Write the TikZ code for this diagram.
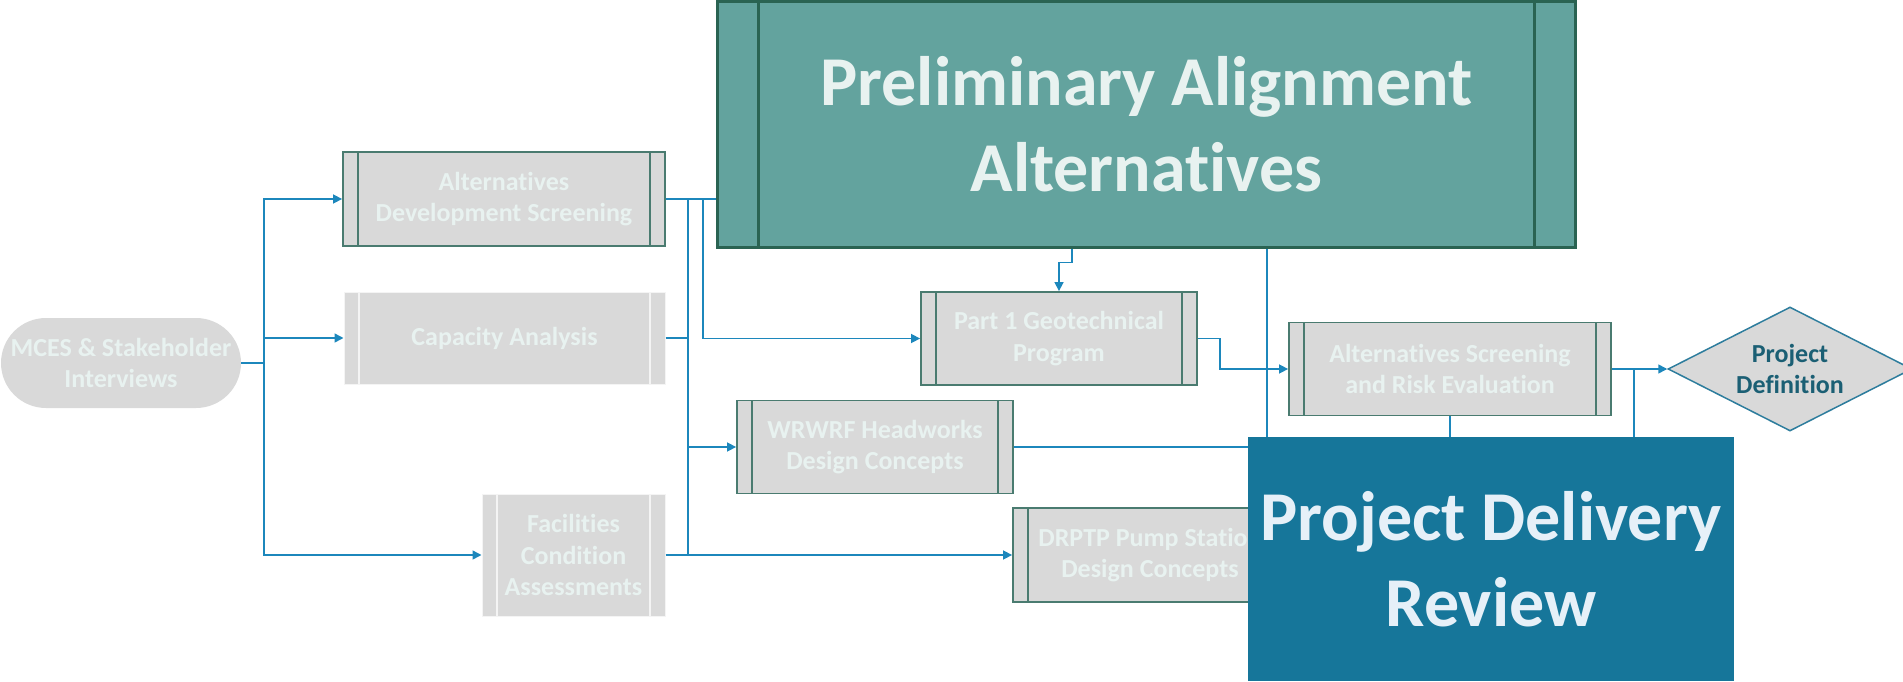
\documentclass[tikz,border=0pt]{standalone}
\usepackage{fontspec}
\setmainfont[Ligatures=NoCommon]{Carlito}
\usetikzlibrary{arrows.meta,shapes.geometric}
\definecolor{boxgray}{HTML}{D9D9D9}
\definecolor{boxedge}{HTML}{4A7B70}
\definecolor{paledge}{HTML}{F4F4F4}
\definecolor{paletext}{HTML}{E8F2F0}
\definecolor{linkblue}{HTML}{1C87BC}
\definecolor{paafill}{HTML}{63A39E}
\definecolor{paaedge}{HTML}{2A6352}
\definecolor{pdrfill}{HTML}{16769A}
\definecolor{pdrtext}{HTML}{E6F0F8}
\definecolor{pdtext}{HTML}{1B5F74}
\definecolor{pdedge}{HTML}{2E7D9D}
\begin{document}
\begin{tikzpicture}[x=1pt,y=-1pt,
  conn/.style={draw=linkblue, line width=1.5pt},
  arr/.style={conn, -{Triangle[length=9pt,width=9pt]}},
  smalltext/.style={text=paletext, font=\bfseries\fontsize{26}{31.5}\selectfont, align=center, inner sep=0pt},
  procbox/.style={smalltext, rectangle, fill=boxgray, draw=boxedge, line width=1.8pt,
    minimum height=93pt,
    path picture={\draw[boxedge, line width=1.8pt]
      ([xshift=15pt]path picture bounding box.north west) -- ([xshift=15pt]path picture bounding box.south west)
      ([xshift=-15pt]path picture bounding box.north east) -- ([xshift=-15pt]path picture bounding box.south east);}},
  palebox/.style={smalltext, rectangle, fill=boxgray, draw=paledge, line width=1pt,
    path picture={\draw[paledge, line width=1.8pt]
      ([xshift=15pt]path picture bounding box.north west) -- ([xshift=15pt]path picture bounding box.south west)
      ([xshift=-15pt]path picture bounding box.north east) -- ([xshift=-15pt]path picture bounding box.south east);}},
  bigtext/.style={font=\bfseries\fontsize{70}{86}\selectfont, align=center, inner sep=0pt}
]
\useasboundingbox (0,0) rectangle (1903,682);

% start terminator
\node[smalltext, rectangle, rounded corners=45pt, fill=boxgray, minimum width=240pt, minimum height=90pt]
  (mces) at (121,363) {MCES \& Stakeholder\\Interviews};

% first column of tasks
\node[procbox, minimum width=322pt, minimum height=94pt] (altdev) at (504,199) {Alternatives\\Development Screening};
\node[palebox, minimum width=321pt, minimum height=92pt] (cap) at (504.5,338) {Capacity Analysis};
\node[palebox, minimum width=183pt, minimum height=122pt] (fac) at (573.5,555) {Facilities\\Condition\\Assessments};

% alignment alternatives block
\node[bigtext, rectangle, fill=paafill, draw=paaedge, line width=3pt, text=paletext,
  minimum width=858pt, minimum height=245pt,
  path picture={\draw[paaedge, line width=2.5pt]
    ([xshift=41pt]path picture bounding box.north west) -- ([xshift=41pt]path picture bounding box.south west)
    ([xshift=-41pt]path picture bounding box.north east) -- ([xshift=-41pt]path picture bounding box.south east);}]
  (paa) at (1146.5,124.5) {Preliminary Alignment\\Alternatives};

% second column of tasks
\node[procbox, minimum width=276pt] (part1) at (1059,338.5) {Part 1 Geotechnical\\Program};
\node[procbox, minimum width=276pt] (wrwrf) at (875,447) {WRWRF Headworks\\Design Concepts};
\node[procbox, minimum width=322pt] (asre) at (1450,369) {Alternatives Screening\\and Risk Evaluation};
\node[procbox, minimum width=274pt, minimum height=94pt] (drptp) at (1150,555) {DRPTP Pump Station\\Design Concepts};

% delivery review block
\node[bigtext, rectangle, fill=pdrfill, text=pdrtext, minimum width=486pt, minimum height=244pt]
  (pdr) at (1491,559) {Project Delivery\\Review};

% decision
\node[diamond, draw=pdedge, line width=1.5pt, fill=boxgray, text=pdtext, align=center, inner sep=0pt,
  font=\bfseries\fontsize{26}{31}\selectfont, aspect=1.97, minimum width=244pt, minimum height=124pt]
  (pd) at (1790,369) {Project\\Definition};

% fan-out from the interviews
\coordinate (split1) at (264,363);
\draw[conn] (mces.east) -- (split1);
\draw[arr] (split1) |- (altdev.west);
\draw[arr] (split1) |- (cap.west);
\draw[arr] (split1) |- (fac.west);

% links out of the first column
\coordinate (bus1) at (688,199);
\coordinate (bus2) at (703,199);
\draw[conn] (altdev.east) -- (altdev.east -| paa.west);
\draw[conn] (bus1) |- (fac.east);
\draw[conn] (cap.east) -- (cap.east -| bus1);
\draw[arr] (bus1 |- wrwrf.west) -- (wrwrf.west);
\draw[arr] (bus2) |- (part1.west);
\draw[arr] (fac.east) -- (drptp.west);

% links out of the alignment block
\draw[arr] ([xshift=-74.5pt]paa.south) -- ++(0,14) -| (part1.north);
\draw[conn] ([xshift=120.5pt]paa.south) -- ([xshift=120.5pt]paa.south |- pdr.north);

% links toward screening, definition and delivery review
\draw[arr] (part1.east) -- ++(22,0) |- (asre.west);
\draw[conn] (asre.south) -- (asre.south |- pdr.north);
\draw[arr] (asre.east) -- (pd.west);
\coordinate (split2) at (1634,369);
\draw[conn] (split2) -- (split2 |- pdr.north);
\draw[conn] (wrwrf.east) -- (wrwrf.east -| pdr.west);
\end{tikzpicture}
\end{document}
